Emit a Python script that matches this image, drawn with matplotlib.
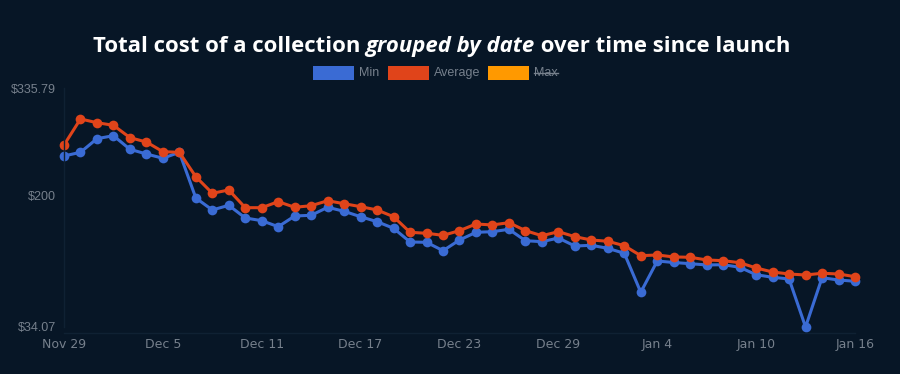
import matplotlib
matplotlib.use('Agg')
import matplotlib.pyplot as plt
import matplotlib.patches as mpatches
import matplotlib.lines as mlines
import pandas as pd

dates = pd.date_range('2021-11-29', '2022-01-16', freq='D')

min_cost = [250.0, 254.6, 271.8, 275.6, 258.4, 252.5, 247.1, 254.6, 196.9, 181.8,
            187.7, 171.7, 168.3, 160.7, 174.2, 175.1, 185.2, 180.1, 173.3, 167.0,
            158.7, 141.4, 141.0, 130.4, 143.9, 153.6, 154.4, 157.4, 143.0, 141.8,
            146.4, 136.3, 137.2, 133.4, 127.1, 77.9, 117.4, 115.5, 114.0, 112.4,
            112.7, 109.5, 100.1, 96.8, 94.7, 34.07, 96.3, 93.4, 91.8]
avg_cost = [263.8, 296.7, 292.0, 288.7, 273.1, 267.6, 255.4, 254.6, 223.8, 202.9,
            207.0, 184.7, 184.7, 192.3, 185.2, 187.2, 193.5, 189.7, 186.0, 181.8,
            173.3, 153.6, 152.4, 149.8, 155.7, 164.1, 162.9, 165.8, 155.7, 149.3,
            154.4, 148.1, 143.9, 142.3, 136.7, 124.1, 125.0, 122.5, 122.1, 118.7,
            117.8, 115.3, 108.6, 103.5, 101.0, 99.7, 101.9, 101.0, 97.6]

y_min, y_max = 34.07, 335.79
y_ticks = [34.07, 200, 335.79]
y_labels = ['$34.07', '$200', '$335.79']
x_ticks = dates[::6]
x_labels = [d.strftime('%b ') + str(d.day) for d in x_ticks]

series_names = ['Min', 'Average', 'Max']
series_colors = ['#3a6bd4', '#e0441a', '#ff9900']

bg = '#071626'
grey = '#76808c'
tick_font = 'Liberation Sans'

W, H = 900, 374
fig = plt.figure(figsize=(W / 100, H / 100), dpi=100, facecolor=bg)
ax = fig.add_axes([64 / W, (H - 327) / H, 791 / W, 239 / H], facecolor=bg)

for vals, col in [(min_cost, series_colors[0]), (avg_cost, series_colors[1])]:
    ax.plot(dates, vals, color=col, lw=2.2, marker='o', ms=7,
            markeredgewidth=0, clip_on=False)

ax.set_xlim(dates[0], dates[-1])
ax.set_ylim(y_min, y_max)
ax.set_yticks(y_ticks)
ax.set_yticklabels(y_labels, family=tick_font)
ax.set_xticks(x_ticks)
ax.set_xticklabels(x_labels, family=tick_font)
ax.tick_params(colors=grey, labelsize=9, length=0)
ax.tick_params(axis='y', pad=6)
ax.tick_params(axis='x', pad=4)
for s in ['top', 'right']:
    ax.spines[s].set_visible(False)
for s in ['left', 'bottom']:
    ax.spines[s].set_color('#0f2133')
    ax.spines[s].set_linewidth(1)
ax.spines['bottom'].set_position(('outward', 4))

# title with italic middle part
parts = [('Total cost of a collection ', 'normal'),
         ('grouped by date', 'italic'),
         (' over time since launch', 'normal')]
fig.canvas.draw()
r = fig.canvas.get_renderer()
fs = 15.95
texts = []
for s, st in parts:
    t = fig.text(0, 0, s, color='white', fontsize=fs, fontweight='bold',
                 style=st, family='Open Sans', va='baseline')
    texts.append(t)
widths = [t.get_window_extent(r).width for t in texts]
total = sum(widths)
x0 = 93 + (697 - total) / 2
for t, w in zip(texts, widths):
    t.set_position((x0 / W, (H - 52) / H))
    x0 += w

# legend
box_x = [313, 388, 488]
for name, col, bx in zip(series_names, series_colors, box_x):
    fig.patches.append(mpatches.Rectangle((bx / W, (H - 80) / H), 41 / W, 14 / H,
                                          transform=fig.transFigure,
                                          facecolor=col, edgecolor='none'))
    t = fig.text((bx + 46) / W, (H - 73) / H, name, color=grey, fontsize=9,
                 va='center', ha='left', family=tick_font)
    if name == 'Max':
        tw = t.get_window_extent(r).width
        fig.lines.append(mlines.Line2D([(bx + 46) / W, (bx + 46 + tw) / W],
                                       [(H - 73) / H, (H - 73) / H],
                                       transform=fig.transFigure,
                                       color=grey, lw=1))

fig.savefig('out.png', dpi=100, facecolor=bg)
